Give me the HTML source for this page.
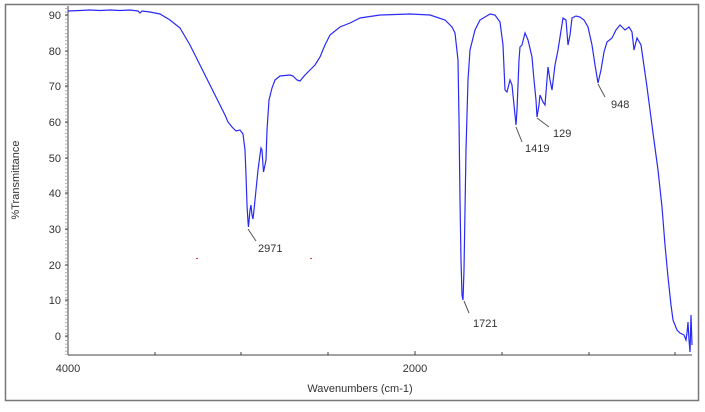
<!DOCTYPE html>
<html><head><style>
body{margin:0;background:#fff;}
svg text{font-family:"Liberation Sans",Arial,sans-serif;fill:#333;}
</style></head><body>
<svg width="705" height="407" xmlns="http://www.w3.org/2000/svg">
<rect x="5.5" y="4.5" width="693" height="396" fill="#fff" stroke="#777" stroke-width="1.5"/>
<line x1="68" y1="6" x2="68" y2="355" stroke="#444"/>
<line x1="68" y1="355" x2="692" y2="355" stroke="#444"/>
<g stroke="#444">
<line x1="65" y1="15" x2="68" y2="15"/><line x1="65" y1="51" x2="68" y2="51"/><line x1="65" y1="86" x2="68" y2="86"/><line x1="65" y1="122" x2="68" y2="122"/><line x1="65" y1="158" x2="68" y2="158"/><line x1="65" y1="193" x2="68" y2="193"/><line x1="65" y1="229" x2="68" y2="229"/><line x1="65" y1="265" x2="68" y2="265"/><line x1="65" y1="300" x2="68" y2="300"/><line x1="65" y1="336" x2="68" y2="336"/>
<line x1="155" y1="355" x2="155" y2="352"/><line x1="241" y1="355" x2="241" y2="352"/><line x1="328" y1="355" x2="328" y2="352"/><line x1="415" y1="355" x2="415" y2="351"/><line x1="502" y1="355" x2="502" y2="352"/><line x1="589" y1="355" x2="589" y2="352"/><line x1="675" y1="355" x2="675" y2="352"/>
</g>
<g stroke="#666" stroke-dasharray="1,2.57"><line x1="66" y1="8" x2="66" y2="355"/></g>
<g font-size="11" text-anchor="end">
<text x="61" y="19">90</text><text x="61" y="55">80</text><text x="61" y="90">70</text><text x="61" y="126">60</text><text x="61" y="162">50</text><text x="61" y="197">40</text><text x="61" y="233">30</text><text x="61" y="269">20</text><text x="61" y="304">10</text><text x="61" y="340">0</text>
</g>
<text x="68" y="372" font-size="11" text-anchor="middle">4000</text>
<text x="415" y="372" font-size="11" text-anchor="middle">2000</text>
<text x="360" y="392" font-size="11" text-anchor="middle">Wavenumbers (cm-1)</text>
<text transform="translate(19,180) rotate(-90)" font-size="11" text-anchor="middle">%Transmittance</text>
<rect x="196" y="258" width="2" height="1" fill="#e33"/><rect x="310" y="258" width="2" height="1" fill="#e33"/>
<polyline fill="none" stroke="#2a2af5" stroke-width="1.2" points="68,11 80,10.5 90,10 100,10.5 110,10 120,10.5 130,10 138,11 140,13 142,11 150,12 160,14 170,20 180,28 190,45 205,75 215,95 220,105 225,115 228,122 232,127 236,131 240,130 243,134 245,150 246,175 247,205 248,222 248.5,227 250,210 251,205 252,215 253,219 254,210 256,190 258,170 260,155 261,148 262,150 263,165 263.5,172 265,165 266,160 267,130 269,100 272,88 275,80 280,76 290,75 293,76 297,80 300,81 305,75 310,70 315,65 320,57 325,45 330,35 340,27 350,23 360,18 380,15 410,14 430,15 445,20 452,27 455,33 458,60 459,120 460,200 461,260 462,295 463,300 464,270 466,150 468,80 470,50 475,30 480,20 490,14 495,15 500,22 503,45 505,90 507,92 510,80 512,85 515,115 516,125 517,110 519,60 520,47 522,45 525,33 528,40 532,57 534,80 536,100 537,117 539,105 540,95 543,102 545,105 548,67 550,80 552,90 555,65 558,50 563,18 566,20 568,45 570,35 572,18 576,16 580,17 584,20 588,27 592,45 595,65 598,83 601,70 604,52 607,42 612,38 616,30 620,25 625,30 629,27 632,32 634,50 637,38 641,45 647,87 653,133 658,170 662,207 665,245 668,277 671,305 673,320 677,330 680,333 684,335 686,340 687,333 688,322 689,340 690,352 691,315 692,345"/>
<g stroke="#555" stroke-width="1">
<line x1="248" y1="229" x2="256" y2="241"/><line x1="464" y1="301" x2="469" y2="313"/><line x1="516" y1="127" x2="522" y2="142"/><line x1="537" y1="118" x2="549" y2="127"/><line x1="598" y1="84" x2="605" y2="97"/>
</g>
<g font-size="11">
<text x="258" y="252">2971</text><text x="473" y="327">1721</text><text x="525" y="152">1419</text><text x="553" y="137">129</text><text x="611" y="108">948</text>
</g>
</svg>
</body></html>
